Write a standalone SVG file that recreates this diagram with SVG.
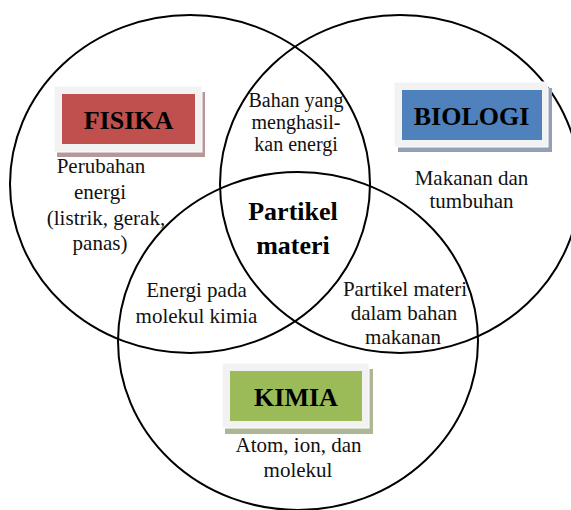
<svg xmlns="http://www.w3.org/2000/svg" width="571" height="510" viewBox="0 0 571 510">
<style>
.c{fill:none;stroke:#000;stroke-width:2}
text{font-family:'Liberation Serif','Times New Roman',serif;text-anchor:middle}
.t{font-size:21px;fill:#111}
.s{font-size:20px;fill:#111}
.b{font-size:26px;font-weight:bold;fill:#000}
.pane{fill:#f2f2f2;stroke:#fff;stroke-width:1}
</style>
<rect width="571" height="510" fill="#fff"/>
<g id="connectors">
<ellipse id="circle-fisika" class="c" cx="190" cy="184" rx="180" ry="169"/>
<ellipse id="circle-biologi" class="c" cx="400" cy="184" rx="180" ry="169"/>
<ellipse id="circle-kimia" class="c" cx="298" cy="341" rx="180" ry="169"/>
</g>
<g id="fisika">
<rect x="57" y="92" width="148" height="65" fill="#b89798"/>
<rect class="pane" x="54" y="86" width="148" height="66"/>
<rect x="62" y="94" width="133" height="50" fill="#c0504d"/>
<text class="b" x="128.5" y="129">FISIKA</text>
</g>
<g id="biologi">
<rect x="398" y="88" width="154" height="64" fill="#939fb4"/>
<rect class="pane" x="394" y="82" width="154" height="65"/>
<rect x="402" y="90" width="140" height="50" fill="#4f81bd"/>
<text class="b" x="471.5" y="125">BIOLOGI</text>
</g>
<g id="kimia">
<rect x="225" y="369" width="148" height="65" fill="#adb795"/>
<rect class="pane" x="222" y="363" width="147" height="65"/>
<rect x="230" y="371" width="132" height="50" fill="#9bbb59"/>
<text class="b" x="296" y="406">KIMIA</text>
</g>
<g id="fisika-text">
<text class="t" x="101" y="173">Perubahan</text>
<text class="t" x="100" y="199">energi</text>
<text class="t" x="106" y="225">(listrik, gerak,</text>
<text class="t" x="100" y="250">panas)</text>
</g>
<g id="biologi-text">
<text class="t" x="471.5" y="185">Makanan dan</text>
<text class="t" x="471.5" y="208">tumbuhan</text>
</g>
<g id="kimia-text">
<text class="t" x="298.5" y="452">Atom, ion, dan</text>
<text class="t" x="298" y="477">molekul</text>
</g>
<g id="fisika-biologi">
<text class="s" x="296" y="107">Bahan yang</text>
<text class="s" x="296" y="129">menghasil-</text>
<text class="s" x="296" y="151">kan energi</text>
</g>
<g id="fisika-kimia">
<text class="t" x="196.5" y="297">Energi pada</text>
<text class="t" x="196.5" y="323">molekul kimia</text>
</g>
<g id="biologi-kimia">
<text class="t" x="405" y="296">Partikel materi</text>
<text class="t" x="404" y="320">dalam bahan</text>
<text class="t" x="403" y="344">makanan</text>
</g>
<g id="center">
<text class="b" x="293" y="220">Partikel</text>
<text class="b" x="293" y="254">materi</text>
</g>
</svg>
